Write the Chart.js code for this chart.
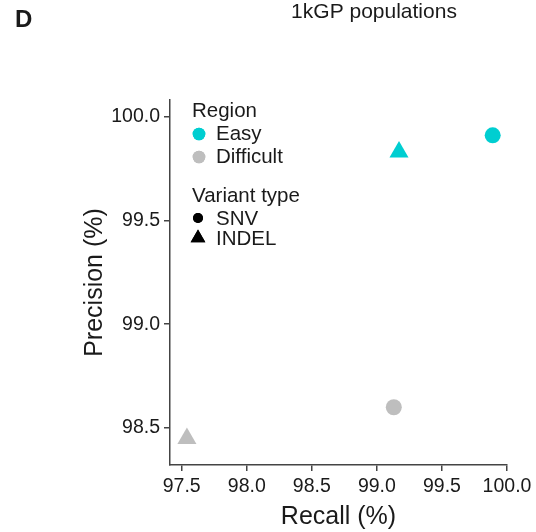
<!DOCTYPE html>
<html>
<head>
<meta charset="utf-8">
<script src="https://cdn.jsdelivr.net/npm/chart.js@4/dist/chart.umd.min.js"></script>
<style>
  html, body { margin: 0; padding: 0; background: #fff; }
  #wrap { width: 536px; height: 532px; }
</style>
</head>
<body>
<div id="wrap"><canvas id="myChart" width="536" height="532"></canvas></div>
<script>
// recall / precision (%) per region, in the order of variantTypes
const regions = ['Easy', 'Difficult'];
const variantTypes = ['SNV', 'INDEL'];
const easyRecall = [99.89, 99.17];
const easyPrecision = [99.91, 99.83];
const difficultRecall = [99.13, 97.54];
const difficultPrecision = [98.60, 98.45];
const xTicks = [97.5, 98.0, 98.5, 99.0, 99.5, 100.0];
const yTicks = [98.5, 99.0, 99.5, 100.0];

const regionColors = ['#00CED1', '#BEBEBE'];
const typeStyles = ['circle', 'triangle'];
const typeRadius = [8, 11];
const FONT = "'Liberation Sans', Arial, Helvetica, sans-serif";
const INK = '#1a1a1a';
const AXIS = '#444';

function toPoints(xs, ys) {
    return xs.map((x, i) => ({ x: x, y: ys[i] }));
}

const datasets = [
    toPoints(easyRecall, easyPrecision),
    toPoints(difficultRecall, difficultPrecision)
].map((pts, i) => ({
    label: regions[i],
    data: pts,
    backgroundColor: regionColors[i],
    borderColor: regionColors[i],
    borderWidth: 0,
    pointStyle: typeStyles,
    pointRadius: typeRadius,
    pointHoverRadius: typeRadius
}));

// panel letter, heading and the two-part legend
const decorations = {
    id: 'decorations',
    afterDraw(chart) {
        const c = chart.ctx;
        const a = chart.chartArea;
        c.save();
        c.fillStyle = INK;
        c.textBaseline = 'alphabetic';
        c.textAlign = 'left';
        c.font = 'bold 24px ' + FONT;
        c.fillText('D', 15, 27);
        c.textAlign = 'center';
        c.font = '21px ' + FONT;
        c.fillText('1kGP populations', 374, 18);

        const lx = a.left + 22;
        const ly = a.top;
        c.textAlign = 'left';
        c.font = '20.5px ' + FONT;
        c.fillText('Region', lx, ly + 17);
        regions.forEach((r, i) => {
            const cy = ly + 34 + i * 23;
            c.fillStyle = regionColors[i];
            Chart.helpers.drawPoint(c, { pointStyle: 'circle', radius: 6.3, borderWidth: 0 }, lx + 7, cy);
            c.fill();
            c.fillStyle = INK;
            c.fillText(r, lx + 24, cy + 6);
        });
        c.fillText('Variant type', lx, ly + 102);
        const legendRadius = [5, 8.5];
        variantTypes.forEach((t, i) => {
            const cy = ly + 118 + i * 20;
            c.fillStyle = '#000';
            Chart.helpers.drawPoint(c, { pointStyle: typeStyles[i], radius: legendRadius[i], borderWidth: 0 }, lx + 6, cy);
            c.fill();
            c.fillStyle = INK;
            c.fillText(t, lx + 24, cy + 7);
        });
        c.restore();
    }
};

const axisCommon = {
    type: 'linear',
    grid: {
        display: true,
        drawOnChartArea: false,
        drawTicks: true,
        tickLength: 6,
        color: AXIS,
        lineWidth: 1.5
    },
    border: { display: true, color: AXIS, width: 1.5 },
    ticks: {
        color: INK,
        font: { family: FONT, size: 19.5 },
        padding: 4,
        callback: v => Number(v).toFixed(1)
    },
    title: {
        display: true,
        color: INK,
        font: { family: FONT, size: 25 },
        padding: 0
    }
};

let ctx = document.querySelector('#myChart').getContext('2d');
let myChart = new Chart(ctx, {
    type: 'scatter',
    data: { datasets: datasets },
    options: {
        responsive: false,
        animation: false,
        layout: { padding: { left: 80, top: 100, right: 29, bottom: 0 } },
        plugins: {
            legend: { display: false },
            tooltip: { enabled: false }
        },
        scales: {
            x: Object.assign({}, axisCommon, {
                min: 97.41,
                max: 100.0,
                afterBuildTicks: s => { s.ticks = xTicks.map(v => ({ value: v })); },
                afterFit: s => { s.height = 67; },
                title: Object.assign({}, axisCommon.title, { text: 'Recall (%)' })
            }),
            y: Object.assign({}, axisCommon, {
                min: 98.322,
                max: 100.08,
                afterBuildTicks: s => { s.ticks = yTicks.map(v => ({ value: v })); },
                afterFit: s => { s.width = 90; },
                title: Object.assign({}, axisCommon.title, { text: 'Precision (%)' })
            })
        }
    },
    plugins: [decorations]
});
</script>
</body>
</html>
